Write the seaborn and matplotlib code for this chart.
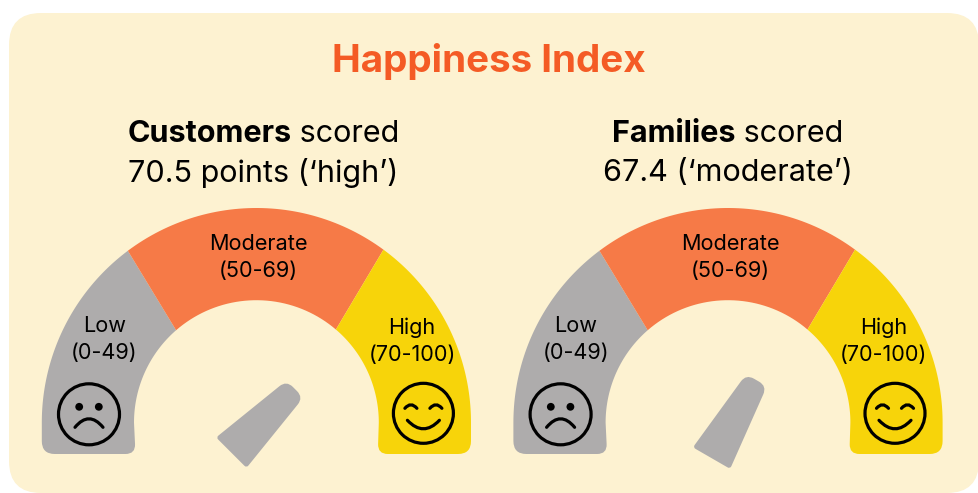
import numpy as np
import matplotlib
matplotlib.use('Agg')
import matplotlib.pyplot as plt
from matplotlib.patches import FancyBboxPatch, PathPatch, Circle
from matplotlib.path import Path
import seaborn as sns

# values
title = "Happiness Index"
groups = ["Customers", "Families"]
second_lines = ["70.5 points (\u2018high\u2019)", "67.4 (\u2018moderate\u2019)"]
band_names = ["Low", "Moderate", "High"]
band_ranges = ["(0-49)", "(50-69)", "(70-100)"]
# dial angles in degrees, outer and inner rim, 180 = far left, 0 = far right
outer_edges = [180, 126.8, 53.7, 0]
inner_edges = [180, 131.0, 49.5, 0]
needle_angles = [45, 60]

BG = "#FDF2D1"
ORANGE_TITLE = "#F45B25"
NEEDLE = "#AEACAC"
band_colors = sns.color_palette(["#AEACAC", "#F67A47", "#F7D40A"])

sns.set_theme(style="white")
plt.rcParams['font.family'] = ['Inter', 'DejaVu Sans']

R_OUT, R_IN = 214.6, 122.4
CY, BOTTOM = 422.6, 454
centers = [256.4, 728.0]


def rounded_path(pts, radii):
    # closed path through pts, corners with radius > 0 get rounded
    pts = [np.array(p, dtype=float) for p in pts]
    n = len(pts)
    verts, codes = [], []
    for i in range(n):
        p, prev, nxt = pts[i], pts[i - 1], pts[(i + 1) % n]
        r = radii[i]
        if r > 0:
            a = p + (prev - p) / np.linalg.norm(prev - p) * r
            b = p + (nxt - p) / np.linalg.norm(nxt - p) * r
            verts += [a, p, b]
            codes += [Path.LINETO, Path.CURVE3, Path.CURVE3]
        else:
            verts.append(p)
            codes.append(Path.LINETO)
    codes[0] = Path.MOVETO
    verts.append(verts[0])
    codes.append(Path.CLOSEPOLY)
    return Path(verts, codes)


def polar(cx, r, deg):
    t = np.radians(deg)
    return (cx + r * np.cos(t), CY - r * np.sin(t))


def draw_band(ax, cx, i):
    a0, a1 = outer_edges[i], outer_edges[i + 1]
    b0, b1 = inner_edges[i], inner_edges[i + 1]
    outer = [polar(cx, R_OUT, a) for a in np.linspace(a0, a1, 60)]
    inner = [polar(cx, R_IN, a) for a in np.linspace(b1, b0, 40)]
    pts = outer + inner
    radii = [0] * len(pts)
    if i == 0:
        pts = [(cx - R_OUT, BOTTOM)] + outer + inner + [(cx - R_IN + 1.5, BOTTOM)]
        radii = [13] + [0] * (len(outer) + len(inner)) + [10]
    if i == 2:
        pts = outer + [(cx + R_OUT, BOTTOM), (cx + R_IN - 1, BOTTOM)] + inner
        radii = [0] * len(outer) + [13, 10] + [0] * len(inner)
    ax.add_patch(PathPatch(rounded_path(pts, radii), fc=band_colors[i], ec='none'))


def draw_needle(ax, cx, deg):
    t = np.radians(deg)
    d = np.array([np.cos(t), -np.sin(t)])
    n = np.array([np.sin(t), np.cos(t)])
    c = np.array([cx, CY]) + 3.5 * n
    pts = [c - 39 * d + 21.5 * n, c + 51 * d + 12 * n, c + 51 * d - 12 * n, c - 39 * d - 21.5 * n]
    ax.add_patch(PathPatch(rounded_path(pts, [3, 9, 9, 3]), fc=NEEDLE, ec='none'))


def draw_faces(ax, cx):
    lw = 2.3
    # sad face
    fx, fy = cx - 167.4, 414.3
    ax.add_patch(Circle((fx, fy), 30.5, fc='none', ec='black', lw=lw))
    for s in (-1, 1):
        ax.add_patch(Circle((fx + s * 9.8, fy + 2 - 9.5), 3.9, fc='black', ec='none'))
    ax.add_patch(PathPatch(Path([(fx - 14, fy + 13), (fx, fy - 4), (fx + 14, fy + 13)],
                                [Path.MOVETO, Path.CURVE3, Path.CURVE3]),
                           fc='none', ec='black', lw=lw, capstyle='round'))
    # happy face
    fx, fy = cx + 167, 413.3
    ax.add_patch(Circle((fx, fy), 30, fc='none', ec='black', lw=lw))
    for s in (-1, 1):
        ex = fx + s * 12.5
        ax.add_patch(PathPatch(Path([(ex - 6, fy - 5), (ex, fy - 12), (ex + 6, fy - 5)],
                                    [Path.MOVETO, Path.CURVE3, Path.CURVE3]),
                               fc='none', ec='black', lw=lw, capstyle='round'))
    ax.add_patch(PathPatch(Path([(fx - 16, fy + 7), (fx, fy + 24), (fx + 16, fy + 7)],
                                [Path.MOVETO, Path.CURVE3, Path.CURVE3]),
                           fc='none', ec='black', lw=lw, capstyle='round'))


fig = plt.figure(figsize=(9.79, 4.93), dpi=100, facecolor='white')
ax = fig.add_axes([0, 0, 1, 1])
ax.set_xlim(0, 979)
ax.set_ylim(493, 0)
ax.axis('off')

ax.add_patch(FancyBboxPatch((9 + 32, 13 + 32), 979 - 9 - 64, 493 - 13 - 64,
                            boxstyle="round,pad=32,rounding_size=32", fc=BG, ec='none'))

ax.text(489, 61, title, color=ORANGE_TITLE, fontsize=27.8, fontweight='bold',
        ha='center', va='center')

fig.canvas.draw()
renderer = fig.canvas.get_renderer()
head_x = [263.5, 727.5]
for g, line, hx in zip(groups, second_lines, head_x):
    bold = ax.text(0, 134, g, fontsize=22, fontweight='bold', color='black', va='center')
    rest = ax.text(0, 134, " scored", fontsize=22, color='black', va='center')
    w0 = bold.get_window_extent(renderer).width
    w1 = rest.get_window_extent(renderer).width
    bold.set_x(hx - (w0 + w1) / 2)
    rest.set_x(hx - (w0 + w1) / 2 + w0)
    ax.text(hx, 173, line, fontsize=22, color='black', ha='center', va='center')

label_dx = [-152.1, 1.9, 155.6]
label_y = [[326, 353.5], [243.5, 271], [328, 354.5]]
for cx, deg in zip(centers, needle_angles):
    for i in range(3):
        draw_band(ax, cx, i)
        ax.text(cx + label_dx[i], label_y[i][0], band_names[i], fontsize=15.6,
                color='black', ha='center', va='center')
        ax.text(cx + label_dx[i], label_y[i][1], band_ranges[i], fontsize=15.6,
                color='black', ha='center', va='center')
    draw_needle(ax, cx, deg)
    draw_faces(ax, cx)

fig.savefig('out.png', dpi=100)
